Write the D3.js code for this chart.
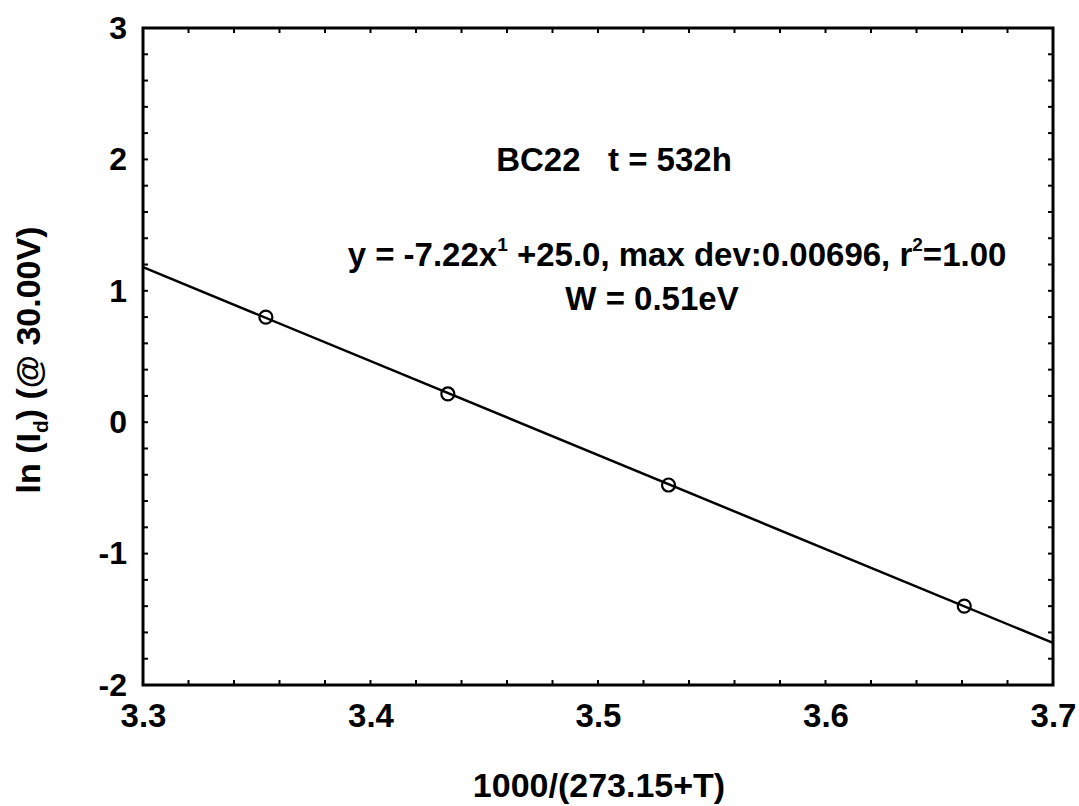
<!DOCTYPE html>
<html>
<head>
<meta charset="utf-8">
<script src="https://cdn.jsdelivr.net/npm/d3@7"></script>
<style>
  html, body { margin: 0; padding: 0; background: #fff; }
  svg { display: block; }
  text { font-family: "Liberation Sans", Arial, sans-serif; fill: #000; }
</style>
</head>
<body>
<svg id="chart" width="1079" height="806"></svg>
<script>
// ---- data ----
const xValues = [3.354, 3.434, 3.531, 3.661];
const yValues = [0.80, 0.215, -0.478, -1.40];
const fitX = [3.3, 3.7];
const fitY = [1.18, -1.68];
const xTicks = [3.3, 3.4, 3.5, 3.6, 3.7];
const yTicks = [-2, -1, 0, 1, 2, 3];
const xLabel = "1000/(273.15+T)";
const annotations = [
  "BC22   t = 532h",
  "W = 0.51eV"
];

// ---- layout ----
const svg = d3.select("#chart");
const pL = 143, pR = 1053, pT = 28, pB = 685;
const x = d3.scaleLinear().domain([3.3, 3.7]).range([pL, pR]);
const y = d3.scaleLinear().domain([-2, 3]).range([pB, pT]);

// minor ticks (inside, all four sides)
const xMinor = d3.range(0, 21).map(i => 3.3 + i * 0.02);
const yMinor = d3.range(0, 26).map(i => -2 + i * 0.2);
const tickLen = 5;
const tg = svg.append("g").attr("stroke", "#000").attr("stroke-width", 2);
xMinor.forEach(v => {
  tg.append("line").attr("x1", x(v)).attr("x2", x(v)).attr("y1", pB).attr("y2", pB - tickLen);
  tg.append("line").attr("x1", x(v)).attr("x2", x(v)).attr("y1", pT).attr("y2", pT + tickLen);
});
yMinor.forEach(v => {
  tg.append("line").attr("y1", y(v)).attr("y2", y(v)).attr("x1", pL).attr("x2", pL + tickLen);
  tg.append("line").attr("y1", y(v)).attr("y2", y(v)).attr("x1", pR).attr("x2", pR - tickLen);
});

// frame
svg.append("rect")
  .attr("x", pL).attr("y", pT)
  .attr("width", pR - pL).attr("height", pB - pT)
  .attr("fill", "none").attr("stroke", "#000").attr("stroke-width", 3);

// axes labels via d3 axes (lines hidden)
const xAxis = svg.append("g").attr("transform", `translate(0,${pB})`)
  .call(d3.axisBottom(x).tickValues(xTicks).tickSize(0).tickPadding(19).tickFormat(d3.format(".1f")));
xAxis.select(".domain").remove();
xAxis.selectAll("text").attr("font-size", 33).attr("font-weight", "bold")
  .attr("font-family", "Liberation Sans, Arial, sans-serif").attr("dy", "0.71em");

const yAxis = svg.append("g").attr("transform", `translate(${pL},0)`)
  .call(d3.axisLeft(y).tickValues(yTicks).tickSize(0).tickPadding(16).tickFormat(d => String(d)));
yAxis.select(".domain").remove();
yAxis.selectAll("text").attr("font-size", 32).attr("font-weight", "bold")
  .attr("font-family", "Liberation Sans, Arial, sans-serif");

// axis titles
svg.append("text").attr("x", 599).attr("y", 797)
  .attr("text-anchor", "middle").attr("font-size", 34).attr("font-weight", "bold")
  .text(xLabel);

const yt = svg.append("text")
  .attr("transform", `translate(40,360) rotate(-90)`)
  .attr("text-anchor", "middle").attr("font-size", 34).attr("font-weight", "bold");
yt.append("tspan").text("ln (I");
yt.append("tspan").attr("font-size", 21).attr("dy", 8).text("d");
yt.append("tspan").attr("dy", -8).text(") (@ 30.00V)");

// fit line
svg.append("path")
  .datum(fitX.map((v, i) => [v, fitY[i]]))
  .attr("d", d3.line().x(d => x(d[0])).y(d => y(d[1])))
  .attr("fill", "none").attr("stroke", "#000").attr("stroke-width", 2.5);

// data points
svg.append("g").selectAll("circle")
  .data(xValues.map((v, i) => [v, yValues[i]]))
  .join("circle")
  .attr("cx", d => x(d[0])).attr("cy", d => y(d[1])).attr("r", 6.5)
  .attr("fill", "none").attr("stroke", "#000").attr("stroke-width", 2.2);

// annotations
svg.append("text").attr("x", 614).attr("y", 171)
  .attr("text-anchor", "middle").attr("font-size", 33).attr("font-weight", "bold")
  .attr("xml:space", "preserve").style("white-space", "pre").text(annotations[0]);

const eq = svg.append("text").attr("x", 677).attr("y", 266)
  .attr("text-anchor", "middle").attr("font-size", 33).attr("font-weight", "bold")
  .attr("xml:space", "preserve").style("white-space", "pre");
eq.append("tspan").text("y = -7.22x");
eq.append("tspan").attr("font-size", 19).attr("dy", -15).text("1");
eq.append("tspan").attr("dy", 15).text(" +25.0, max dev:0.00696, r");
eq.append("tspan").attr("font-size", 19).attr("dy", -15).text("2");
eq.append("tspan").attr("dy", 15).text("=1.00");

svg.append("text").attr("x", 652).attr("y", 310)
  .attr("text-anchor", "middle").attr("font-size", 33).attr("font-weight", "bold")
  .text(annotations[1]);
</script>
</body>
</html>
